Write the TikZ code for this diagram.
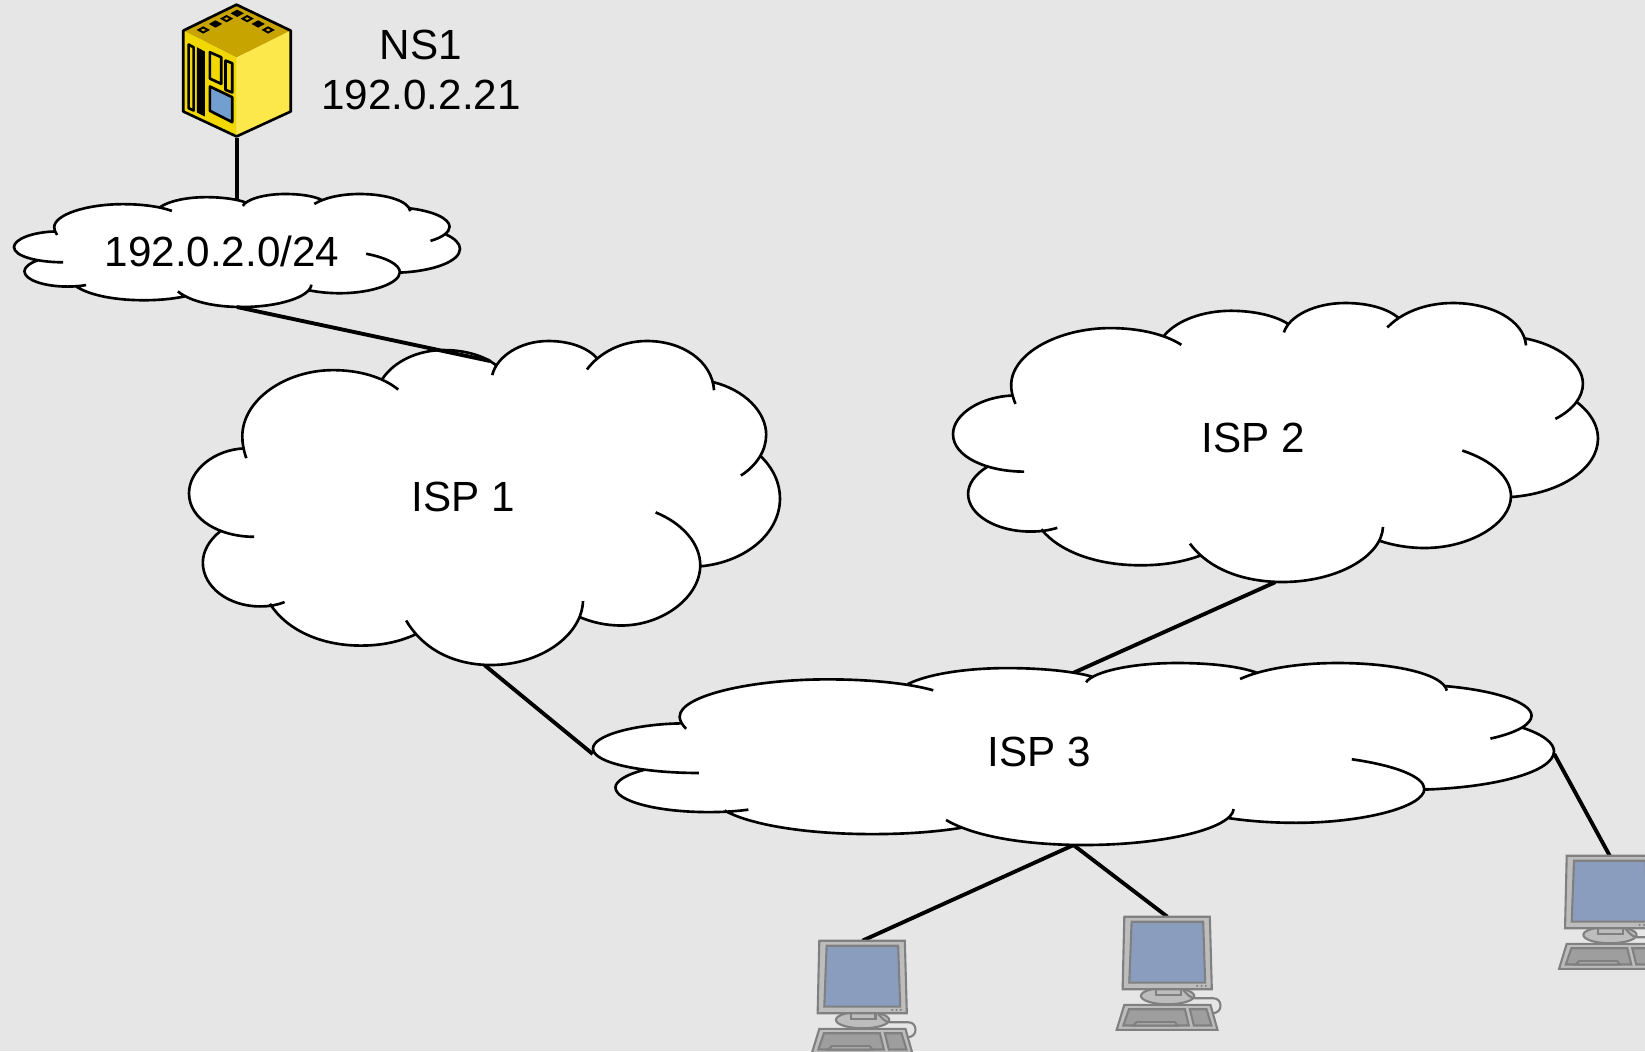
\documentclass[tikz,border=0pt]{standalone}
\usepackage{fontspec}
\setmainfont{Liberation Sans}

\definecolor{backgray}{HTML}{E6E6E6}
\definecolor{topgold}{HTML}{C8A400}
\definecolor{sideyellow}{HTML}{F0D800}
\definecolor{frontyellow}{HTML}{FDE84B}
\definecolor{panelblue}{HTML}{729FCF}
\definecolor{screenblue}{HTML}{8A9DBF}
\definecolor{hostgray}{HTML}{BDBDBD}
\definecolor{keygray}{HTML}{9E9E9E}
\definecolor{edgegray}{HTML}{808080}

\tikzset{
	anchorbox/.style={inner sep=0pt, outer sep=0pt},
	lbl/.style={font=\fontsize{12}{14}\selectfont, align=center, inner sep=0pt},
	link/.style={line width=1.1pt},
	cloudline/.style={line width=0.75pt},
	hostline/.style={draw=edgegray, line width=0.6pt},
	serverline/.style={draw=black, line width=0.75pt, line join=round},
}

% outline of one cloud, open lobes going clockwise
\newcommand{\cloudarcs}{
	(185,620) .. controls (100,620) and (20,570) .. (20,490) .. controls (20,420) and (85,360) .. (158,356)
	(165,385) .. controls (158,360) and (155,340) .. (155,320) .. controls (155,210) and (265,122) .. (385,122) .. controls (450,122) and (510,142) .. (550,180)
	(510,148) .. controls (540,95) and (600,62) .. (665,62) .. controls (720,62) and (770,80) .. (798,108)
	(788,137) .. controls (800,80) and (860,35) .. (930,35) .. controls (985,35) and (1030,55) .. (1055,88)
	(1028,120) .. controls (1060,70) and (1115,35) .. (1180,35) .. controls (1270,35) and (1345,95) .. (1350,182)
	(1348,158) .. controls (1425,180) and (1482,245) .. (1482,315) .. controls (1482,360) and (1460,405) .. (1418,437)
	(1467,378) .. controls (1500,415) and (1517,460) .. (1517,505) .. controls (1517,610) and (1430,695) .. (1317,708)
	(1202,547) .. controls (1270,580) and (1315,640) .. (1315,705) .. controls (1315,800) and (1220,885) .. (1115,885) .. controls (1075,885) and (1040,875) .. (1010,860)
	(1018,812) .. controls (1015,915) and (910,1003) .. (785,1003) .. controls (695,1003) and (615,960) .. (570,870)
	(593,912) .. controls (550,935) and (505,945) .. (455,945) .. controls (350,945) and (265,895) .. (225,820)
	(262,815) .. controls (240,825) and (220,828) .. (200,828) .. controls (120,828) and (55,770) .. (55,697) .. controls (55,665) and (70,630) .. (100,603)
}

\newcommand{\cloudface}[4]{
	\begin{scope}[shift={(#1,#2)}, xscale=#3/1497, yscale=#4/968, shift={(-768.5,-519)}]
		\fill [white] \cloudarcs (158,360) -- (175,260) -- (385,130) -- (515,150) -- (665,70) -- (795,112) -- (930,45) -- (1045,95) -- (1180,45) -- (1345,160) -- (1470,315) -- (1465,380) -- (1505,505) -- (1315,700) -- (1115,875) -- (1018,860) -- (785,995) -- (590,905) -- (455,935) -- (230,820) -- (200,820) -- (65,697) -- (100,605) -- (30,490) -- cycle;
		\draw [cloudline] \cloudarcs;
	\end{scope}
}

\newcommand{\computer}[1]{
	\begin{scope}[shift={(#1.north west)}, x=0.00333cm, y=-0.00333cm]
		\draw [hostline, fill=hostgray] (130,238) ellipse [x radius=80, y radius=25];
		\draw [hostline, fill=hostgray] (94,218) rectangle (169,235);
		\draw [hostline] (177,220) .. controls (190,235) and (200,245) .. (212,245) -- (267,245) .. controls (282,245) and (289,255) .. (289,268) .. controls (289,280) and (280,290) .. (265,290);
		\draw [hostline, fill=hostgray] (0,265) -- (259,265) -- (280,340) -- (-23,340) -- cycle;
		\draw [hostline, fill=keygray] (14,278) -- (182,278) -- (194,327) -- (-3,327) -- cycle;
		\draw [hostline, fill=hostgray] (27,327) -- (37,317) -- (152,317) -- (160,327) -- cycle;
		\draw [hostline, fill=keygray] (197,278) -- (247,278) -- (262,327) -- (209,327) -- cycle;
		\draw [hostline, fill=hostgray] (0,0) -- (257,0) -- (263,218) -- (-5,218) -- cycle;
		\draw [hostline, fill=screenblue] (22,15) -- (237,15) -- (243,198) -- (15,198) -- cycle;
		\foreach \dx in {219,232,245}
			\fill [edgegray] (\dx,208) circle (3.5);
	\end{scope}
}

\begin{document}
\begin{tikzpicture}[x=0.01cm, y=-0.01cm]

\clip (0,0) rectangle (1645,1051);
\fill [backgray] (0,0) rectangle (1645,1051);

% ANCHORS
\node [anchorbox, minimum width=1.08cm, minimum height=1.32cm] (ns1) at (237,72) {};
\node [anchorbox, minimum width=4.46cm, minimum height=1.13cm] (net) at (237,250.5) {};
\node [anchorbox, minimum width=5.91cm, minimum height=3.24cm] (isp1) at (484.5,503) {};
\node [anchorbox, minimum width=6.45cm, minimum height=2.79cm] (isp2) at (1275.5,442.5) {};
\node [anchorbox, minimum width=9.61cm, minimum height=1.82cm] (isp3) at (1073.5,754) {};
\node [anchorbox, minimum width=0.86cm, minimum height=1.13cm, anchor=north west] (host1) at (819.3,940.7) {};
\node [anchorbox, minimum width=0.86cm, minimum height=1.13cm, anchor=north west] (host2) at (1124.3,916.7) {};
\node [anchorbox, minimum width=0.86cm, minimum height=1.13cm, anchor=north west] (host3) at (1566.7,855.7) {};
\coordinate (nettop) at (237,206);
\coordinate (isp1top) at (490,361);
\coordinate (isp3top) at (1073,673);

% LINKS
\draw [link] (ns1.south) -- (nettop);
\draw [link] (isp1.south) -- (isp3.west);
\draw [link] (isp2.south) -- (isp3top);
\draw [link] (isp3.south) -- (host1.north);
\draw [link] (isp3.south) -- (host2.north);
\draw [link] (isp3.east) -- (host3.north);

% CLOUDS
\cloudface{237}{250.5}{446}{113}
\cloudface{484.5}{503}{591}{324}
\cloudface{1275.5}{442.5}{645}{279}
\cloudface{1073.5}{754}{961}{182}
\draw [link] (net.south) -- (isp1top);

% HOSTS
\computer{host1}
\computer{host2}
\computer{host3}

% SERVER
\begin{scope}[shift={(150,0)}, x=0.00333cm, y=-0.00333cm]
	\fill [topgold] (100,92) -- (260,14) -- (423,92) -- (260,173) -- cycle;
	\fill [sideyellow] (100,92) -- (260,173) -- (260,410) -- (100,335) -- cycle;
	\fill [frontyellow] (260,173) -- (423,92) -- (423,335) -- (260,410) -- cycle;
	\draw [serverline] (100,92) -- (260,14) -- (423,92) -- (423,335) -- (260,410) -- (100,335) -- cycle;
	\draw [serverline] (116,134) -- (131,142) -- (131,332) -- (116,325) -- cycle;
	\fill (141,142) -- (165,155) -- (165,350) -- (141,338) -- cycle;
	\draw [serverline] (180,157) -- (214,172) -- (214,252) -- (180,236) -- cycle;
	\draw [serverline] (227,182) -- (247,190) -- (247,278) -- (227,270) -- cycle;
	\draw [serverline, fill=panelblue] (180,260) -- (247,292) -- (247,367) -- (180,333) -- cycle;
	\foreach \cx/\cy in {197/72,262/40,325/72}
		\fill (\cx,\cy) ++(-20,0) -- ++(20,-11) -- ++(20,11) -- ++(-20,11) -- cycle;
	\foreach \cx/\cy in {160/90,230/56,292/56,355/90} {
		\fill (\cx,\cy) ++(-20,0) -- ++(20,-11) -- ++(20,11) -- ++(-20,11) -- cycle;
		\fill [topgold] (\cx,\cy) ++(-7,0) -- ++(7,-4) -- ++(7,4) -- ++(-7,4) -- cycle;
	}
\end{scope}

% LABELS
\node [lbl] (ns1label) at (421,70) {NS1\\192.0.2.21};
\node [lbl] (netlabel) at (222,251) {192.0.2.0/24};
\node [lbl] (isp1label) at (463,497) {ISP 1};
\node [lbl] (isp2label) at (1253,438) {ISP 2};
\node [lbl] (isp3label) at (1039,752) {ISP 3};

\end{tikzpicture}
\end{document}
